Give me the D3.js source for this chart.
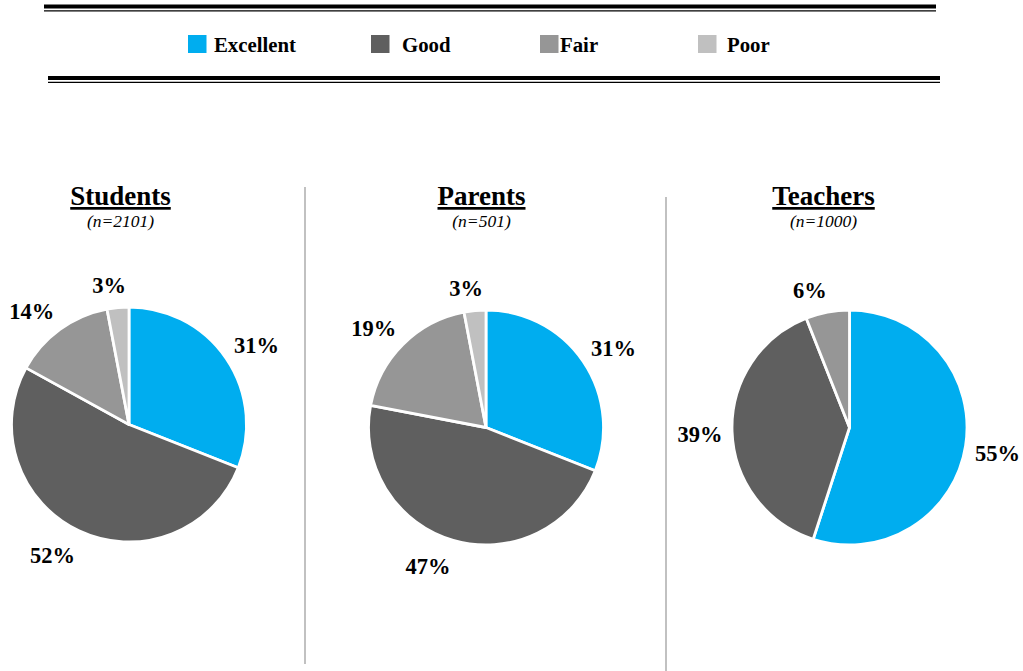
<!DOCTYPE html>
<html><head><meta charset="utf-8">
<script src="https://cdn.jsdelivr.net/npm/d3@7"></script>
<style>body{margin:0;background:#fff}svg{display:block}</style>
</head><body>
<script>
const categories = ["Excellent", "Good", "Fair", "Poor"];
const colors = ["#00adef", "#5f5f5f", "#969696", "#c0c0c0"];
const groups = ["Students", "Parents", "Teachers"];
const sampleSizes = ["(n=2101)", "(n=501)", "(n=1000)"];
const studentsValues = [31, 52, 14, 3];
const parentsValues = [31, 47, 19, 3];
const teachersValues = [55, 39, 6, 0];
const seriesValues = [studentsValues, parentsValues, teachersValues];

const W = 1023, H = 671;
const svg = d3.select("body").append("svg").attr("width", W).attr("height", H);
const font = "'Liberation Serif','Times New Roman',serif";

// header rules
function doubleRule(x1, x2, yThick, yThin) {
  svg.append("line").attr("x1", x1).attr("x2", x2).attr("y1", yThick).attr("y2", yThick)
    .attr("stroke", "#000").attr("stroke-width", 4.2);
  svg.append("line").attr("x1", x1).attr("x2", x2).attr("y1", yThin).attr("y2", yThin)
    .attr("stroke", "#000").attr("stroke-width", 1.3);
}
doubleRule(44, 936, 6.5, 10.8);
doubleRule(48, 940, 78, 82.3);

// legend
const legendX = [188, 371, 540, 698];
const legendTextX = [214, 402, 560, 727];
const lg = svg.append("g");
categories.forEach((c, i) => {
  lg.append("rect").attr("x", legendX[i]).attr("y", 35).attr("width", 18.5).attr("height", 18).attr("fill", colors[i]);
  lg.append("text").attr("x", legendTextX[i]).attr("y", 51.5).text(c)
    .attr("font-family", font).attr("font-weight", "bold").attr("font-size", 20.8).attr("fill", "#000");
});

// separators
svg.append("line").attr("x1", 305).attr("x2", 305).attr("y1", 187).attr("y2", 664).attr("stroke", "#a0a0a0").attr("stroke-width", 1.3);
svg.append("line").attr("x1", 666).attr("x2", 666).attr("y1", 197).attr("y2", 671).attr("stroke", "#a0a0a0").attr("stroke-width", 1.3);

const centers = [[129, 424.5], [486, 427.5], [849.5, 427.5]];
const titleX = [120.5, 481.5, 823.5];
const radius = 117.5;
const labelRx = 127, labelRy = 137;
const pie = d3.pie().sort(null).value(d => d);
const arc = d3.arc().innerRadius(0).outerRadius(radius);
const clamp = v => Math.max(-1, Math.min(1, v));

groups.forEach((g, gi) => {
  svg.append("text").attr("x", titleX[gi]).attr("y", 205).attr("text-anchor", "middle")
    .attr("font-family", font).attr("font-weight", "bold").attr("font-size", 27)
    .attr("text-decoration", "underline").text(g);
  svg.append("text").attr("x", titleX[gi]).attr("y", 226.5).attr("text-anchor", "middle")
    .attr("font-family", font).attr("font-style", "italic").attr("font-size", 17.5).text(sampleSizes[gi]);

  const cg = svg.append("g").attr("transform", `translate(${centers[gi][0]},${centers[gi][1]})`);
  const arcs = pie(seriesValues[gi]).filter(d => d.data > 0);
  cg.selectAll("path").data(arcs).join("path")
    .attr("d", arc).attr("fill", d => colors[d.index])
    .attr("stroke", "#fff").attr("stroke-width", 2.8).attr("stroke-linejoin", "round");
  const labels = cg.selectAll("text").data(arcs).join("text")
    .attr("text-anchor", "middle").attr("dy", "0.35em")
    .attr("font-family", font).attr("font-weight", "bold").attr("font-size", 22.5)
    .text(d => d.data + "%");
  labels.each(function(d) {
    const a = (d.startAngle + d.endAngle) / 2;
    const sx = Math.sin(a), sy = -Math.cos(a);
    const hw = this.getComputedTextLength() / 2;
    const x = labelRx * sx + hw * clamp(sx * 5);
    const y = labelRy * sy + 4.75 * clamp(sy * 3) + 2.25;
    d3.select(this).attr("transform", `translate(${x},${y})`);
  });
});
</script>
</body></html>
